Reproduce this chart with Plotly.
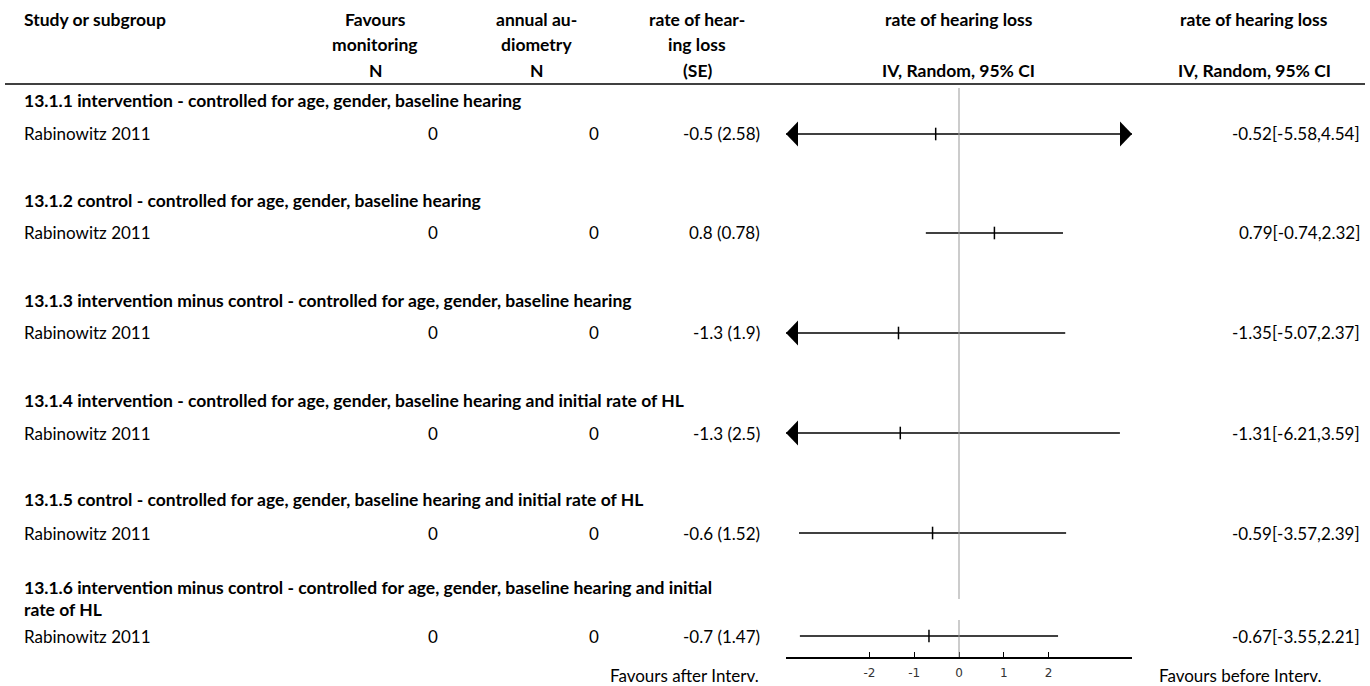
import plotly.graph_objects as go

# ---------------- data ----------------
subgroups = [
    "13.1.1 intervention - controlled for age, gender, baseline hearing",
    "13.1.2 control - controlled for age, gender, baseline hearing",
    "13.1.3 intervention minus control - controlled for age, gender, baseline hearing",
    "13.1.4 intervention - controlled for age, gender, baseline hearing and initial rate of HL",
    "13.1.5 control - controlled for age, gender, baseline hearing and initial rate of HL",
    "13.1.6 intervention minus control - controlled for age, gender, baseline hearing and initial\nrate of HL",
]
studies = ["Rabinowitz 2011"] * 6
n_monitoring = [0, 0, 0, 0, 0, 0]
n_audiometry = [0, 0, 0, 0, 0, 0]
rate = [-0.5, 0.8, -1.3, -1.3, -0.6, -0.7]
se = [2.58, 0.78, 1.9, 2.5, 1.52, 1.47]
md = [-0.52, 0.79, -1.35, -1.31, -0.59, -0.67]
ci_lo = [-5.58, -0.74, -5.07, -6.21, -3.57, -3.55]
ci_hi = [4.54, 2.32, 2.37, 3.59, 2.39, 2.21]
tick_vals = [-2, -1, 0, 1, 2]
tick_text = ["-2", "-1", "0", "1", "2"]

# ---------------- layout constants ----------------
W, H = 1370, 686
FONT = "Lato"
FS = 17
FSB = 17.5
XR = 3.86                      # forest axis half-range
PX0, PX1 = 786, 1132           # forest axis pixel extent
AXIS_Y = 657
sub_y = [101, 200, 300, 400, 500, 587]
study_y = [134, 233, 333, 433, 533, 636]
HEAD_LH = 25
SUB_LH = 22

fig = go.Figure()
ann = []

def text(x, y, s, anchor="left", bold=False, lh=HEAD_LH, color="#000"):
    for i, line in enumerate(s.split("\n")):
        ann.append(dict(
            x=x / W, y=1 - (y + i * lh) / H, xref="paper", yref="paper",
            text=f"<b>{line}</b>" if bold else line,
            showarrow=False, xanchor=anchor, yanchor="middle", align=anchor,
            font=dict(family=FONT, size=FSB if bold else FS, color=color)))

# headers
text(22, 20, "Study or subgroup", bold=True)
text(375, 20, "Favours\nmonitoring", "center", True)
text(536, 20, "annual au-\ndiometry", "center", True)
text(697, 20, "rate of hear-\ning loss", "center", True)
text(959, 20, "rate of hearing loss", "center", True)
text(1254, 20, "rate of hearing loss", "center", True)
text(375, 71, "N", "center", True)
text(536, 71, "N", "center", True)
text(697, 71, "(SE)", "center", True)
text(959, 71, "IV, Random, 95% CI", "center", True)
text(1254, 71, "IV, Random, 95% CI", "center", True)

for i in range(6):
    text(22, sub_y[i], subgroups[i], bold=True, lh=SUB_LH)
    text(22, study_y[i], studies[i])
    text(440, study_y[i], str(n_monitoring[i]), "right")
    text(601, study_y[i], str(n_audiometry[i]), "right")
    text(762, study_y[i], f"{rate[i]} ({se[i]})", "right")
    text(1362, study_y[i], f"{md[i]:.2f}[{ci_lo[i]:.2f},{ci_hi[i]:.2f}]", "right")

text(684, 675, "Favours after Interv.", "center")
text(1240, 675, "Favours before Interv.", "center")

# forest marks
ux = 2 * XR / (PX1 - PX0)   # data units per pixel
for i in range(6):
    y = study_y[i]
    lo = max(ci_lo[i], -XR)
    hi = min(ci_hi[i], XR)
    fig.add_trace(go.Scatter(x=[lo, hi], y=[y, y], mode="lines",
                             line=dict(color="#000", width=1.5),
                             hoverinfo="skip", showlegend=False))
    fig.add_trace(go.Scatter(x=[md[i]], y=[y], mode="markers",
                             marker=dict(symbol="line-ns", size=9,
                                         line=dict(color="#000", width=1.5)),
                             hoverinfo="skip", showlegend=False))
    if ci_lo[i] < -XR:
        fig.add_trace(go.Scatter(x=[-XR, -XR + 12 * ux, -XR + 12 * ux, -XR],
                                 y=[y, y - 12.5, y + 12.5, y], mode="lines",
                                 fill="toself", fillcolor="#000",
                                 line=dict(color="#000", width=0),
                                 hoverinfo="skip", showlegend=False))
    if ci_hi[i] > XR:
        fig.add_trace(go.Scatter(x=[XR, XR - 12 * ux, XR - 12 * ux, XR],
                                 y=[y, y - 12.5, y + 12.5, y], mode="lines",
                                 fill="toself", fillcolor="#000",
                                 line=dict(color="#000", width=0),
                                 hoverinfo="skip", showlegend=False))

shapes = [
    # header rule
    dict(type="line", xref="paper", yref="y", x0=5 / W, x1=1365 / W, y0=84, y1=84,
         line=dict(color="#000", width=1.5)),
    # bottom rule
    dict(type="line", xref="paper", yref="y", x0=7 / W, x1=1365 / W, y0=658, y1=658,
         line=dict(color="#000", width=1.5)),
    # zero line
    dict(type="line", xref="x", yref="y", x0=0, x1=0, y0=88, y1=599,
         line=dict(color="#999", width=1)),
    dict(type="line", xref="x", yref="y", x0=0, x1=0, y0=620, y1=AXIS_Y,
         line=dict(color="#999", width=1)),
]

fig.update_layout(
    width=W, height=H,
    margin=dict(l=0, r=0, t=0, b=0),
    paper_bgcolor="white", plot_bgcolor="white",
    showlegend=False,
    annotations=ann, shapes=shapes,
    xaxis=dict(domain=[PX0 / W, PX1 / W], range=[-XR, XR],
               showgrid=False, zeroline=False,
               showline=True, linecolor="#000", linewidth=2,
               ticks="inside", ticklen=5, tickwidth=1, tickcolor="#000",
               tickvals=tick_vals, ticktext=tick_text,
               tickfont=dict(family="DejaVu Sans", size=12, color="#333"),
               ticklabelstandoff=4,
               fixedrange=True),
    yaxis=dict(domain=[(H - AXIS_Y) / H, 1], range=[AXIS_Y, 0],
               visible=False, showgrid=False, zeroline=False, fixedrange=True),
)

fig.write_html("out.html")
